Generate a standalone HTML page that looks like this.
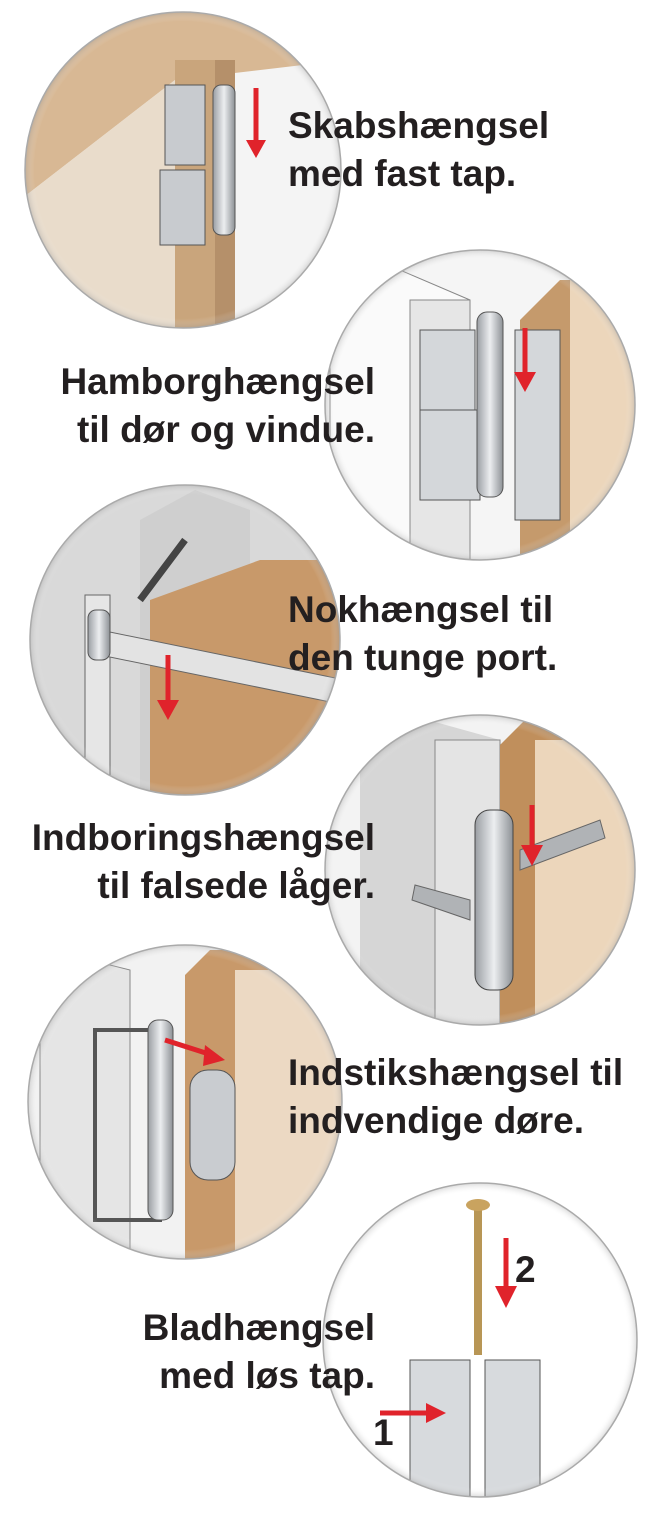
<!DOCTYPE html>
<html><head><meta charset="utf-8">
<style>
html,body{margin:0;padding:0;background:#fff;}
svg{display:block;}
text{font-family:"Liberation Sans",sans-serif;font-weight:bold;fill:#231f20;font-size:37px;}
</style></head><body>
<svg width="661" height="1531" viewBox="0 0 661 1531" xmlns="http://www.w3.org/2000/svg">
<defs>
<radialGradient id="sh" cx="50%" cy="50%" r="50%"><stop offset="94%" stop-color="#fff" stop-opacity="0"/><stop offset="100%" stop-color="#999" stop-opacity="0.35"/></radialGradient>
<linearGradient id="met" x1="0" x2="1"><stop offset="0" stop-color="#9a9ea3"/><stop offset="0.5" stop-color="#eceef0"/><stop offset="1" stop-color="#8d9196"/></linearGradient>
<clipPath id="c1"><circle cx="183" cy="170" r="158"/></clipPath>
<clipPath id="c2"><circle cx="480" cy="405" r="155"/></clipPath>
<clipPath id="c3"><circle cx="185" cy="640" r="155"/></clipPath>
<clipPath id="c4"><circle cx="480" cy="870" r="155"/></clipPath>
<clipPath id="c5"><circle cx="185" cy="1102" r="157"/></clipPath>
<clipPath id="c6"><circle cx="480" cy="1340" r="157"/></clipPath>
</defs>

<g clip-path="url(#c1)">
<rect x="0" y="0" width="400" height="400" fill="#f4f4f4"/>
<polygon points="20,40 210,0 345,0 345,60 175,80 20,200" fill="#d8b894"/>
<polygon points="20,200 175,80 175,330 20,330" fill="#e9dccb"/>
<rect x="175" y="60" width="55" height="280" fill="#c9a57c"/>
<rect x="215" y="60" width="20" height="280" fill="#b5906a"/>
<rect x="165" y="85" width="40" height="80" fill="#c8cbcf" stroke="#555"/>
<rect x="160" y="170" width="45" height="75" fill="#c8cbcf" stroke="#555"/>
<rect x="213" y="85" width="22" height="150" rx="8" fill="url(#met)" stroke="#555"/>
<line x1="256" y1="88" x2="256" y2="145" stroke="#e0232b" stroke-width="5"/>
<polygon points="246,140 266,140 256,158" fill="#e0232b"/>
</g>
<circle cx="183" cy="170" r="158" fill="url(#sh)" stroke="#aaa" stroke-width="1.5"/>

<g clip-path="url(#c2)">
<rect x="320" y="240" width="330" height="330" fill="#f5f5f5"/>
<polygon points="330,300 400,270 470,300 470,570 330,570" fill="#fafafa" stroke="#888"/>
<rect x="410" y="300" width="60" height="270" fill="#e6e6e6" stroke="#888"/>
<polygon points="520,320 560,280 650,280 650,570 520,570" fill="#c59a6c"/>
<rect x="570" y="280" width="80" height="290" fill="#ecd6bb"/>
<rect x="420" y="330" width="55" height="80" fill="#d4d7da" stroke="#555"/>
<rect x="420" y="410" width="60" height="90" fill="#d4d7da" stroke="#555"/>
<rect x="515" y="330" width="45" height="190" fill="#d4d7da" stroke="#555"/>
<rect x="477" y="312" width="26" height="185" rx="10" fill="url(#met)" stroke="#555"/>
<line x1="525" y1="328" x2="525" y2="378" stroke="#e0232b" stroke-width="5"/>
<polygon points="514,372 536,372 525,392" fill="#e0232b"/>
</g>
<circle cx="480" cy="405" r="155" fill="url(#sh)" stroke="#aaa" stroke-width="1.5"/>

<g clip-path="url(#c3)">
<rect x="20" y="480" width="340" height="330" fill="#d9d9d9"/>
<polygon points="140,520 195,490 250,510 250,810 140,810" fill="#cfcfcf"/>
<polygon points="150,600 260,560 345,560 345,810 150,810" fill="#c8996a"/>
<rect x="85" y="595" width="25" height="185" fill="#e6e6e6" stroke="#666"/>
<line x1="140" y1="600" x2="185" y2="540" stroke="#444" stroke-width="7"/>
<polygon points="100,630 345,680 345,705 100,655" fill="#e3e3e3" stroke="#666"/>
<rect x="88" y="610" width="22" height="50" rx="8" fill="url(#met)" stroke="#555"/>
<line x1="168" y1="655" x2="168" y2="705" stroke="#e0232b" stroke-width="5"/>
<polygon points="157,700 179,700 168,720" fill="#e0232b"/>
</g>
<circle cx="185" cy="640" r="155" fill="url(#sh)" stroke="#aaa" stroke-width="1.5"/>

<g clip-path="url(#c4)">
<rect x="320" y="710" width="330" height="330" fill="#f3f3f3"/>
<polygon points="360,740 410,715 500,740 500,1030 360,1030" fill="#d6d6d6"/>
<rect x="435" y="740" width="65" height="290" fill="#e4e4e4" stroke="#888"/>
<polygon points="500,745 530,715 650,715 650,1030 500,1030" fill="#c08f5c"/>
<rect x="535" y="740" width="110" height="290" fill="#ecd6bb"/>
<polygon points="415,885 470,900 470,920 412,900" fill="#b0b3b6" stroke="#666"/>
<polygon points="520,850 600,820 605,838 520,870" fill="#b0b3b6" stroke="#666"/>
<rect x="475" y="810" width="38" height="180" rx="15" fill="url(#met)" stroke="#444"/>
<line x1="532" y1="805" x2="532" y2="850" stroke="#e0232b" stroke-width="5"/>
<polygon points="521,845 543,845 532,866" fill="#e0232b"/>
</g>
<circle cx="480" cy="870" r="155" fill="url(#sh)" stroke="#aaa" stroke-width="1.5"/>

<g clip-path="url(#c5)">
<rect x="20" y="940" width="340" height="330" fill="#f2f2f2"/>
<polygon points="40,1000 90,960 130,970 130,1260 40,1260" fill="#e5e5e5" stroke="#888"/>
<polygon points="185,975 210,950 345,950 345,1260 185,1260" fill="#c8996a"/>
<rect x="235" y="970" width="110" height="290" fill="#ecd9c3"/>
<rect x="95" y="1030" width="65" height="190" fill="none" stroke="#555" stroke-width="4"/>
<rect x="190" y="1070" width="45" height="110" rx="18" fill="#c9ccd0" stroke="#555"/>
<rect x="148" y="1020" width="25" height="200" rx="10" fill="url(#met)" stroke="#555"/>
<line x1="165" y1="1040" x2="212" y2="1055" stroke="#e0232b" stroke-width="5"/>
<polygon points="205,1045 225,1060 203,1066" fill="#e0232b"/>
</g>
<circle cx="185" cy="1102" r="157" fill="url(#sh)" stroke="#aaa" stroke-width="1.5"/>

<g clip-path="url(#c6)">
<rect x="320" y="1180" width="330" height="330" fill="#fff"/>
<rect x="474" y="1205" width="8" height="150" fill="#b89655"/>
<ellipse cx="478" cy="1205" rx="12" ry="6" fill="#c9a35f"/>
<rect x="410" y="1360" width="60" height="150" fill="#d7dadd" stroke="#555"/>
<rect x="485" y="1360" width="55" height="150" fill="#d7dadd" stroke="#555"/>
<line x1="506" y1="1238" x2="506" y2="1290" stroke="#e0232b" stroke-width="5"/>
<polygon points="495,1286 517,1286 506,1308" fill="#e0232b"/>
<line x1="380" y1="1413" x2="430" y2="1413" stroke="#e0232b" stroke-width="5"/>
<polygon points="426,1403 446,1413 426,1423" fill="#e0232b"/>
</g>
<circle cx="480" cy="1340" r="157" fill="url(#sh)" stroke="#aaa" stroke-width="1.5"/>
<text x="515" y="1282" font-size="30">2</text>
<text x="373" y="1445" font-size="30">1</text>

<text x="288" y="138">Skabshængsel</text>
<text x="288" y="186">med fast tap.</text>
<text x="375" y="394" text-anchor="end">Hamborghængsel</text>
<text x="375" y="442" text-anchor="end">til dør og vindue.</text>
<text x="288" y="622">Nokhængsel til</text>
<text x="288" y="670">den tunge port.</text>
<text x="375" y="850" text-anchor="end">Indboringshængsel</text>
<text x="375" y="898" text-anchor="end">til falsede låger.</text>
<text x="288" y="1085">Indstikshængsel til</text>
<text x="288" y="1133">indvendige døre.</text>
<text x="375" y="1340" text-anchor="end">Bladhængsel</text>
<text x="375" y="1388" text-anchor="end">med løs tap.</text>
</svg>
</body></html>
